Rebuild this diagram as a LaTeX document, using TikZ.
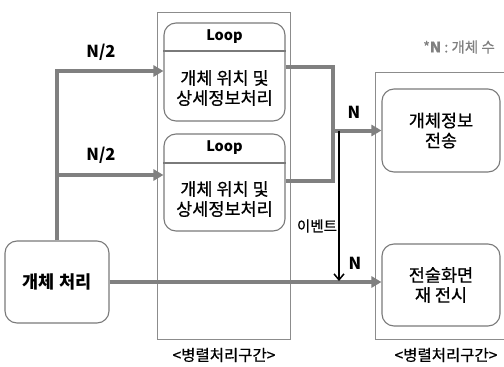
\documentclass[tikz,border=0pt]{standalone}
\usepackage{fontspec}
\setmainfont{Noto Sans CJK KR}
\newfontfamily\medfont{Noto Sans CJK KR}[FakeBold=0.6]
\usetikzlibrary{arrows.meta,calc}
\definecolor{linegray}{HTML}{808080}
\definecolor{framegray}{HTML}{8C8C8C}
\definecolor{boxgray}{HTML}{7A7A7A}
\definecolor{notegray}{HTML}{7F7F7F}
\begin{document}
\begin{tikzpicture}[x=1pt,y=-1pt,
  frame/.style={draw=framegray,line width=1pt},
  box/.style={draw=boxgray,line width=1.1pt,rounded corners=12pt,inner sep=0pt},
  boxtext/.style={align=center,font=\medfont\fontsize{17.5}{20}\selectfont},
  looptitle/.style={font=\fontsize{14.5}{16}\selectfont\bfseries},
  lbl/.style={font=\fontsize{16.5}{18}\selectfont\bfseries},
  caption/.style={font=\medfont\fontsize{15.5}{17}\selectfont},
  trunk/.style={draw=linegray,line width=4pt,line join=miter},
  flow/.style={trunk,-{Triangle[length=10pt,width=11pt]}},
  evt/.style={draw=black,line width=1.5pt,-{Straight Barb[length=6pt,width=10pt]}}]
\useasboundingbox (0,0) rectangle (504,367);

% parallel section frames
\node[frame,minimum width=133pt,minimum height=327pt,inner sep=0pt] (midframe) at (223.5,175.5) {};
\draw[frame] (504,72) -| (375,339) -- (504,339);

% loop boxes
\node[box,minimum width=121pt,minimum height=98pt] (loop1) at (224.5,72) {};
\draw[draw=boxgray,line width=1.1pt] (loop1.west |- 0,51) -- (loop1.east |- 0,51);
\node[looptitle] (loop1t) at (224.5,37) {Loop};
\node[boxtext] (loop1b) at (224.5,88) {개체 위치 및\\상세정보처리};

\node[box,minimum width=121pt,minimum height=97pt] (loop2) at (224.5,182.5) {};
\draw[draw=boxgray,line width=1.1pt] (loop2.west |- 0,163) -- (loop2.east |- 0,163);
\node[looptitle] (loop2t) at (224.5,148) {Loop};
\node[boxtext] (loop2b) at (224.5,199) {개체 위치 및\\상세정보처리};

% process boxes
\node[box,boxtext,minimum width=104pt,minimum height=82pt,font=\fontsize{17.5}{20}\selectfont\bfseries] (proc) at (57,282) {개체 처리};
\node[box,boxtext,minimum width=118pt,minimum height=83pt] (info) at (441,130.5) {개체정보\\전송};
\node[box,boxtext,minimum width=118pt,minimum height=82pt] (redisp) at (441,285) {전술화면\\재 전시};

% split into the two loops
\coordinate (split1) at (57,71);
\coordinate (split2) at (57,175);
\draw[flow] (proc.north) -- (split1) -- (split1 -| loop1.west);
\draw[flow] (split2) -- (split2 -| loop2.west);

% merge of the loop results
\coordinate (mtop) at (333,67);
\coordinate (mbot) at (333,181);
\coordinate (mmid) at (333,130.5);
\draw[trunk] (loop1.east |- mtop) -- (mtop) -- (mbot) -- (loop2.east |- mbot);
\draw[flow] (mmid) -- (info.west);

% direct path to redisplay
\draw[flow] (proc.east) -- (proc.east -| redisp.west);

% event trigger
\coordinate (evtstart) at (339,130.5);
\coordinate (evtend) at (339,281);
\draw[evt] (evtstart) -- (evtend);

% labels
\node[lbl] (n2a) at (101,52) {N/2};
\node[lbl] (n2b) at (101,155) {N/2};
\node[lbl] (na) at (354,112) {N};
\node[lbl] (nb) at (355,263) {N};
\node[caption,font=\medfont\fontsize{14.5}{16}\selectfont] (event) at (317,226) {이벤트};
\node[caption] (cap1) at (224,355) {<병렬처리구간>};
\node[caption] (cap2) at (446,355) {<병렬처리구간>};
\node[caption,text=notegray,font=\medfont\fontsize{14.5}{16}\selectfont] (note) at (459,47) {*\textbf{N} : 개체 수};
\end{tikzpicture}
\end{document}
